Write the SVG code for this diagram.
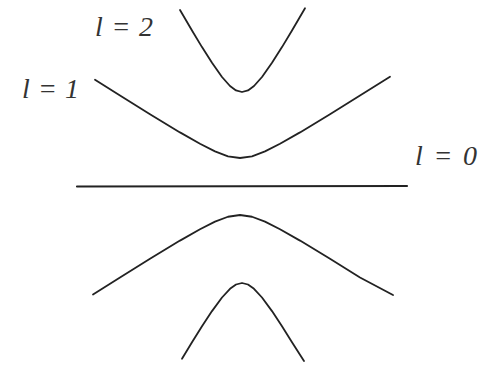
<svg xmlns="http://www.w3.org/2000/svg" width="485" height="367" viewBox="0 0 485 367">
<style>
.c{fill:none;stroke:#222;stroke-width:1.8;stroke-linejoin:round;stroke-linecap:round}
.t{font-family:"Liberation Serif","Times New Roman",serif;font-style:italic;font-size:28px;fill:#333}
</style>
<rect width="485" height="367" fill="#fff"/>
<g id="connectors">
<polyline id="l2-upper" class="c" points="180,10 192,30.5 202,47.1 212,62.8 222,77 230,86 236,90.4 242,92 248,90.4 254,86 262,77 272,62.8 282,47.1 292,30.5 305,8.3"/>
<polyline id="l1-upper" class="c" points="95,79.8 120,95.55 150,114.2 180,132.4 200,143.8 215,151.4 228,156.3 240,158 252,156.3 265,151.4 280,143.8 300,132.4 330,114.2 360,95.55 390,76.7"/>
<line id="l0" class="c" x1="77" y1="186.5" x2="407" y2="186" style="stroke-width:2.2"/>
<polyline id="l1-lower" class="c" points="93,294.5 120,277.45 150,258.8 180,240.6 200,229.2 215,221.6 228,216.75 240,215 252,216.75 265,221.6 280,229.2 300,240.6 330,258.8 360,277.45 393,295"/>
<polyline id="l2-lower" class="c" points="182,358.7 192,342.2 202,326.3 212,311.1 222,297.5 230,288.8 236,284.5 242,283 248,284.5 254,288.8 262,297.5 272,311.1 282,326.3 292,342.2 304,361"/>
</g>
<g id="label-l2"><text class="t" x="95" y="36" textLength="58" lengthAdjust="spacing">l = 2</text></g>
<g id="label-l1"><text class="t" x="22" y="98" textLength="57" lengthAdjust="spacing">l = 1</text></g>
<g id="label-l0"><text class="t" x="415" y="165" textLength="62" lengthAdjust="spacing">l = 0</text></g>
</svg>
